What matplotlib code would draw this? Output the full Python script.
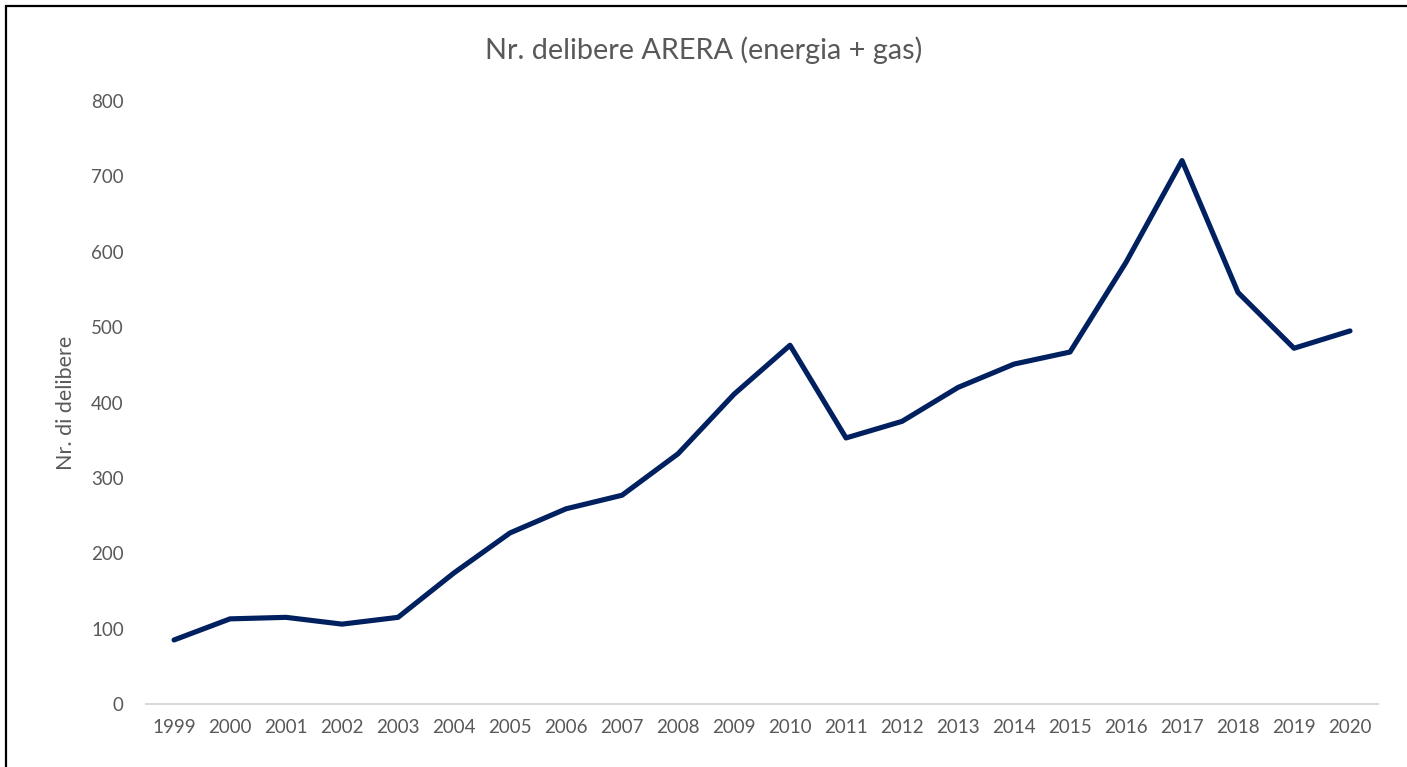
import matplotlib
matplotlib.use("Agg")
import matplotlib.pyplot as plt
from matplotlib.patches import Rectangle

# data
years = [str(y) for y in range(1999, 2021)]
delibere = [85, 113, 115, 106, 115, 174, 227, 259, 277, 332, 411, 476,
            353, 375, 420, 451, 467, 586, 721, 546, 472, 495]
yticks = [0, 100, 200, 300, 400, 500, 600, 700, 800]

plt.rcParams['font.family'] = ['Lato', 'DejaVu Sans']
grey = '#595959'

fig = plt.figure(figsize=(14.07, 7.67), dpi=100)
ax = fig.add_axes([0.1038, 0.0821, 0.8756, 0.7862])

x = list(range(len(years)))
ax.plot(x, delibere, color='#002060', linewidth=3.7, solid_joinstyle='round',
        solid_capstyle='round')

ax.set_xlim(-0.5, len(years) - 0.5)
ax.set_ylim(0, 800)
ax.set_xticks(x)
ax.set_xticklabels(years)
ax.set_yticks(yticks)

for s in ['top', 'right', 'left']:
    ax.spines[s].set_visible(False)
ax.spines['bottom'].set_color('#d9d9d9')
ax.spines['bottom'].set_linewidth(1.5)
ax.tick_params(axis='both', length=0, colors=grey, labelsize=13.5)
ax.tick_params(axis='x', pad=11)
ax.tick_params(axis='y', pad=16)

ax.set_ylabel("Nr. di delibere", color=grey, fontsize=15.5, labelpad=11)
fig.text(0.5, 1 - 50 / 767, "Nr. delibere ARERA (energia + gas)",
         ha='center', va='center', color=grey, fontsize=20.8)

# outer frame of the chart object
fig.patches.append(Rectangle((6 / 1407, -0.2), 1.2, 1.2 - 6 / 767,
                             transform=fig.transFigure, fill=False,
                             edgecolor='black', linewidth=1.6))

fig.savefig("out.png", dpi=100, facecolor='white')
